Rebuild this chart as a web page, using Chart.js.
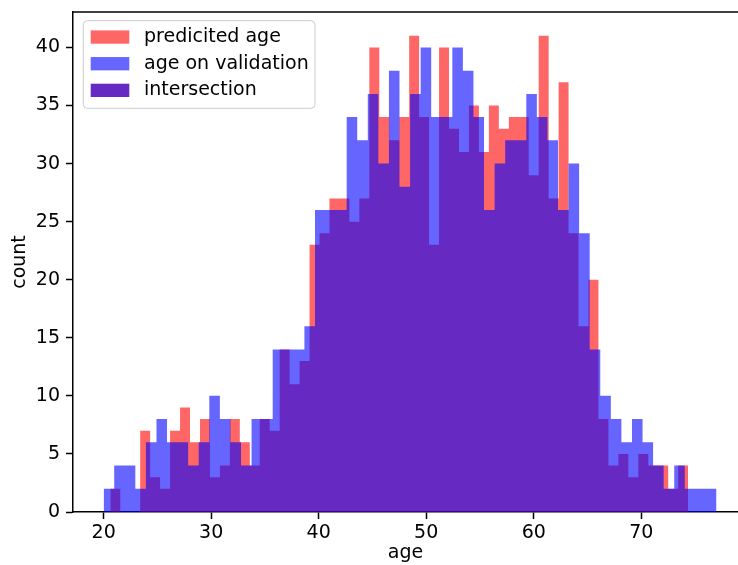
<!DOCTYPE html>
<html>
<head>
<meta charset="utf-8">
<script src="https://cdn.jsdelivr.net/npm/chart.js@4"></script>
<style>
html, body { margin: 0; padding: 0; background: #fff; }
</style>
</head>
<body>
<canvas id="chart" width="738" height="565"></canvas>
<script>
// histogram counts, 58 bins each
var predictedCounts = [2, 0, 0, 7, 3, 2, 7, 9, 6, 8,
                       3, 4, 8, 6, 4, 8, 7, 14, 11, 13,
                       23, 24, 27, 27, 25, 27, 40, 34, 32, 34,
                       41, 34, 23, 40, 33, 31, 35, 31, 35, 33,
                       34, 34, 29, 41, 27, 37, 24, 16, 20, 8,
                       4, 5, 3, 5, 4, 4, 2, 4];
var validationCounts = [2, 4, 4, 2, 6, 8, 6, 6, 4, 6,
                        10, 8, 6, 4, 8, 8, 14, 14, 14, 16,
                        26, 26, 26, 34, 32, 36, 30, 38, 28, 36,
                        40, 34, 34, 40, 38, 34, 26, 30, 32, 32,
                        36, 34, 32, 26, 30, 24, 14, 10, 8, 6,
                        8, 6, 4, 2, 4, 2, 2, 2];
var predictedRange = [20.62, 74.36];
var validationRange = [20, 77];
var binCount = 58;
var xTicks = [20, 30, 40, 50, 60, 70];
var yTicks = [0, 5, 10, 15, 20, 25, 30, 35, 40];
var legendLabels = ['predicited age', 'age on validation', 'intersection'];
var legendColors = ['rgb(255,102,102)', 'rgb(102,102,255)', 'rgb(102,41,194)'];

var fontFamily = "'DejaVu Sans', sans-serif";
var axisFont = { family: fontFamily, size: 19 };

// bin edges like matplotlib's hist (evenly split range), step line filled to 0
function histPoints(counts, range) {
    var width = (range[1] - range[0]) / binCount;
    var points = counts.map(function(c, i) {
        return { x: range[0] + i * width, y: c };
    });
    points.push({ x: range[1], y: 0 });
    return points;
}

function roundRect(ctx, x, y, w, h, r) {
    ctx.beginPath();
    ctx.moveTo(x + r, y);
    ctx.lineTo(x + w - r, y);
    ctx.arcTo(x + w, y, x + w, y + r, r);
    ctx.lineTo(x + w, y + h - r);
    ctx.arcTo(x + w, y + h, x + w - r, y + h, r);
    ctx.lineTo(x + r, y + h);
    ctx.arcTo(x, y + h, x, y + h - r, r);
    ctx.lineTo(x, y + r);
    ctx.arcTo(x, y, x + r, y, r);
    ctx.closePath();
}

var frameAndLegend = {
    id: 'frameAndLegend',
    afterDraw: function(chart) {
        var ctx = chart.ctx;
        var area = chart.chartArea;
        ctx.save();
        // top spine
        ctx.strokeStyle = '#000';
        ctx.lineWidth = 1.5;
        ctx.beginPath();
        ctx.moveTo(area.left - 0.75, area.top);
        ctx.lineTo(chart.width, area.top);
        ctx.stroke();

        // legend box, upper left
        var bx = area.left + 10.3, by = area.top + 8.7, bw = 231.7, bh = 87.6;
        roundRect(ctx, bx, by, bw, bh, 4);
        ctx.fillStyle = 'rgba(255,255,255,0.8)';
        ctx.fill();
        ctx.strokeStyle = '#cccccc';
        ctx.lineWidth = 1;
        ctx.stroke();

        ctx.font = '19px ' + fontFamily;
        ctx.textBaseline = 'middle';
        ctx.textAlign = 'left';
        for (var i = 0; i < legendLabels.length; i++) {
            var cy = by + 16.3 + i * 26.65;
            ctx.fillStyle = legendColors[i];
            ctx.fillRect(bx + 7.4, cy - 6.6, 38.6, 13.3);
            ctx.fillStyle = '#000';
            ctx.fillText(legendLabels[i], bx + 60.7, cy);
        }
        ctx.restore();
    }
};

var ctx = document.getElementById('chart').getContext('2d');
var chart = new Chart(ctx, {
    type: 'line',
    data: {
        datasets: [
            {
                label: legendLabels[0],
                data: histPoints(predictedCounts, predictedRange),
                stepped: true,
                fill: 'origin',
                backgroundColor: 'rgba(255,0,0,0.6)',
                borderColor: 'rgba(0,0,0,0)',
                borderWidth: 0,
                pointRadius: 0,
                order: 2
            },
            {
                label: legendLabels[1],
                data: histPoints(validationCounts, validationRange),
                stepped: true,
                fill: 'origin',
                backgroundColor: 'rgba(0,0,255,0.6)',
                borderColor: 'rgba(0,0,0,0)',
                borderWidth: 0,
                pointRadius: 0,
                order: 1
            }
        ]
    },
    options: {
        responsive: false,
        devicePixelRatio: 1,
        animation: false,
        layout: {
            padding: { top: 12, right: 0, left: 0, bottom: 0 }
        },
        plugins: {
            legend: { display: false },
            tooltip: { enabled: false }
        },
        scales: {
            x: {
                type: 'linear',
                min: 17.15,
                max: 79,
                afterBuildTicks: function(axis) {
                    axis.ticks = xTicks.map(function(v) { return { value: v }; });
                },
                afterFit: function(scale) {
                    scale.height = 53;
                    scale.paddingLeft = 0;
                    scale.paddingRight = 0;
                },
                grid: {
                    display: true,
                    drawOnChartArea: false,
                    drawTicks: true,
                    tickLength: 7,
                    tickColor: '#000',
                    tickWidth: 1.5
                },
                border: { display: true, color: '#000', width: 1.5 },
                ticks: {
                    color: '#000',
                    font: axisFont,
                    padding: 3,
                    maxRotation: 0,
                    autoSkip: false
                },
                title: {
                    display: true,
                    text: 'age',
                    color: '#000',
                    font: axisFont,
                    padding: { top: 0, bottom: 1 }
                }
            },
            y: {
                type: 'linear',
                min: 0,
                max: 43.05,
                afterBuildTicks: function(axis) {
                    axis.ticks = yTicks.map(function(v) { return { value: v }; });
                },
                afterFit: function(scale) {
                    scale.width = 73;
                    scale.paddingTop = 0;
                    scale.paddingBottom = 0;
                },
                grid: {
                    display: true,
                    drawOnChartArea: false,
                    drawTicks: true,
                    tickLength: 7,
                    tickColor: '#000',
                    tickWidth: 1.5
                },
                border: { display: true, color: '#000', width: 1.5 },
                ticks: {
                    color: '#000',
                    font: axisFont,
                    padding: 6,
                    autoSkip: false
                },
                title: {
                    display: true,
                    text: 'count',
                    color: '#000',
                    font: axisFont,
                    padding: { top: 8.5, bottom: 0 }
                }
            }
        }
    },
    plugins: [frameAndLegend]
});
</script>
</body>
</html>
